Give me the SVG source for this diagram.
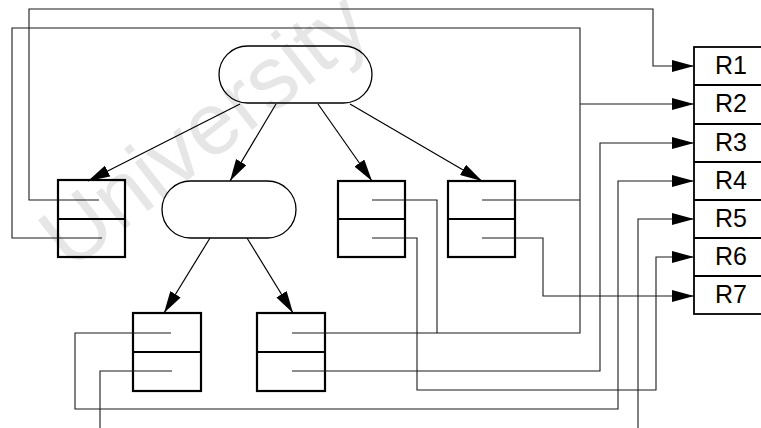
<svg xmlns="http://www.w3.org/2000/svg" width="761" height="428" viewBox="0 0 761 428">
  <style>
    .cell { fill: none; stroke: #000; stroke-width: 2.2; }
    .oval { fill: none; stroke: #000; stroke-width: 1.3; }
    .wire { fill: none; stroke: #1a1a1a; stroke-width: 1.1; }
    .edge { fill: none; stroke: #000; stroke-width: 1.2; }
    .reg { fill: none; stroke: #000; stroke-width: 1.8; }
    .lbl { font-family: "Liberation Sans", Arial, sans-serif; font-size: 25px; fill: #000; text-anchor: middle; }
    .wm { font-family: "Liberation Sans", Arial, sans-serif; font-size: 88px; fill: #e6e6e6; }
  </style>
  <defs>
    <marker id="head" markerUnits="userSpaceOnUse" markerWidth="22" markerHeight="12" refX="22" refY="6" orient="auto">
      <path d="M0,0 L22,6 L0,12 Z" fill="#000"/>
    </marker>
  </defs>
  <rect width="761" height="428" fill="#fff"/>

  <!-- watermark -->
  <text class="wm" transform="translate(70,272) rotate(-38)">University</text>

  <!-- tree nodes -->
  <g id="root"><rect class="oval" x="219" y="46" width="153" height="57" rx="28.5"/></g>
  <g id="inner"><rect class="oval" x="162" y="181" width="134" height="57" rx="28.5"/></g>
  <g id="cellA"><rect class="cell" x="58" y="180" width="67" height="77"/><line class="cell" x1="58" y1="219" x2="125" y2="219"/></g>
  <g id="cellC"><rect class="cell" x="338" y="181" width="67" height="76"/><line class="cell" x1="338" y1="219" x2="405" y2="219"/></g>
  <g id="cellD"><rect class="cell" x="448" y="181" width="67" height="76"/><line class="cell" x1="448" y1="219" x2="515" y2="219"/></g>
  <g id="cellE"><rect class="cell" x="133" y="313" width="68" height="78"/><line class="cell" x1="133" y1="352" x2="201" y2="352"/></g>
  <g id="cellF"><rect class="cell" x="257" y="313" width="68" height="78"/><line class="cell" x1="257" y1="352" x2="325" y2="352"/></g>

  <!-- register column -->
  <g id="registers">
    <rect class="reg" x="694" y="47" width="80" height="267"/>
    <path class="reg" d="M694,85 H774 M694,124 H774 M694,162 H774 M694,200 H774 M694,238 H774 M694,276 H774"/>
    <text class="lbl" x="731" y="74">R1</text>
    <text class="lbl" x="731" y="112">R2</text>
    <text class="lbl" x="731" y="151">R3</text>
    <text class="lbl" x="731" y="189">R4</text>
    <text class="lbl" x="731" y="227">R5</text>
    <text class="lbl" x="731" y="265">R6</text>
    <text class="lbl" x="731" y="303">R7</text>
  </g>

  <g id="connectors">
    <!-- tree edges -->
    <path class="edge" d="M240,104 L88,181" marker-end="url(#head)"/>
    <path class="edge" d="M276,104 L230,181" marker-end="url(#head)"/>
    <path class="edge" d="M318,104 L372,181" marker-end="url(#head)"/>
    <path class="edge" d="M350,104 L482,181" marker-end="url(#head)"/>
    <path class="edge" d="M210,238 L164,313" marker-end="url(#head)"/>
    <path class="edge" d="M247,238 L293,313" marker-end="url(#head)"/>

    <!-- wires to registers -->
    <path class="wire" d="M99,200 H29 V9 H653 V66 H694" marker-end="url(#head)"/>
    <path class="wire" d="M102,238 H12 V28 H580 V333 H292"/>
    <path class="wire" d="M372,200 H437 V333"/>
    <path class="wire" d="M482,200 H580"/>
    <path class="wire" d="M580,104 H694" marker-end="url(#head)"/>
    <path class="wire" d="M292,371 H600 V143 H694" marker-end="url(#head)"/>
    <path class="wire" d="M171,333 H75 V409 H618 V181 H694" marker-end="url(#head)"/>
    <path class="wire" d="M172,371 H100 V428"/>
    <path class="wire" d="M638,428 V219 H694" marker-end="url(#head)"/>
    <path class="wire" d="M372,238 H417 V390 H656 V257 H694" marker-end="url(#head)"/>
    <path class="wire" d="M482,238 H543 V296 H694" marker-end="url(#head)"/>
  </g>
</svg>
